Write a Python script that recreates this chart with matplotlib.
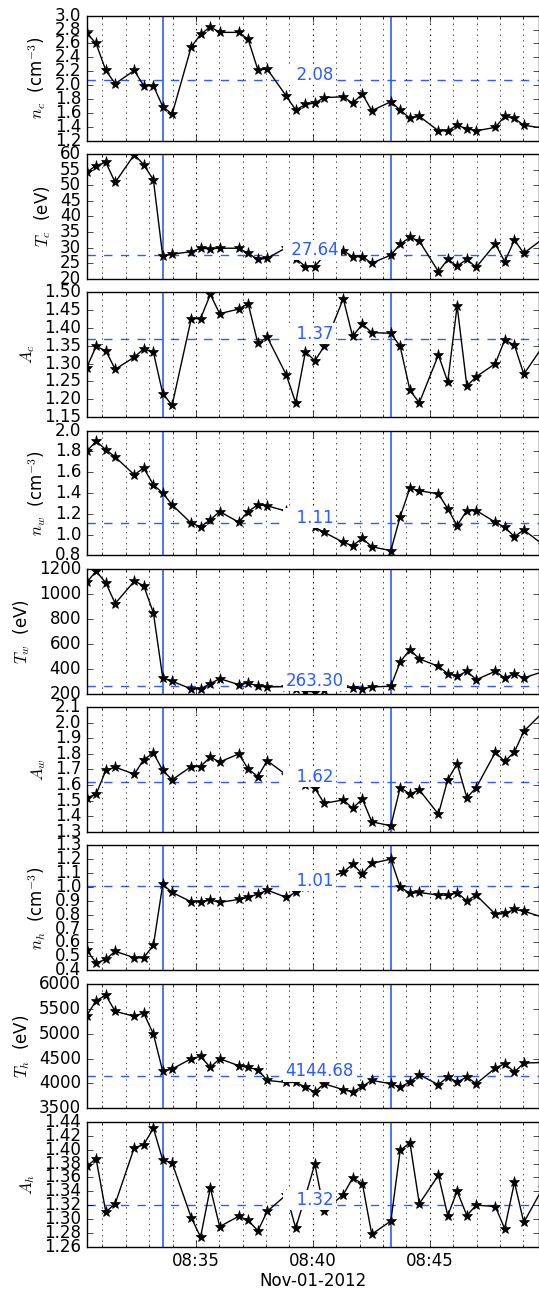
import matplotlib
matplotlib.use("Agg")
import matplotlib.pyplot as plt
import matplotlib.dates as mdates
import matplotlib.transforms as mtransforms
from matplotlib.ticker import MultipleLocator, FormatStrFormatter
import pandas as pd

plt.style.use("classic")
plt.rcParams.update({
    "figure.facecolor": "white",
    "savefig.facecolor": "white",
    "font.family": ["DejaVu Sans"],
})

DAY = "2012-11-01 "

# sample times (UT)
times = ["08:30:20", "08:30:44", "08:31:09", "08:31:33", "08:32:22", "08:32:46",
         "08:33:11", "08:33:35", "08:33:59", "08:34:48", "08:35:12", "08:35:37",
         "08:36:01", "08:36:50", "08:37:14", "08:37:39", "08:38:03", "08:38:52",
         "08:39:16", "08:39:41", "08:40:05", "08:40:29", "08:41:18", "08:41:42",
         "08:42:07", "08:42:31", "08:43:20", "08:43:44", "08:44:09", "08:44:33",
         "08:45:22", "08:45:46", "08:46:10", "08:46:35", "08:46:59", "08:47:48",
         "08:48:12", "08:48:37", "08:49:01", "08:49:50"]

# core population
n_c = [2.75, 2.60, 2.21, 2.02, 2.21, 1.99, 1.99, 1.69, 1.58, 2.55, 2.73, 2.84,
       2.76, 2.76, 2.66, 2.22, 2.23, 1.84, 1.64, 1.72, 1.74, 1.82, 1.83, 1.74,
       1.87, 1.63, 1.76, 1.64, 1.52, 1.55, 1.34, 1.34, 1.42, 1.37, 1.34, 1.39,
       1.55, 1.52, 1.42, 1.38]
T_c = [54.1, 56.3, 57.3, 50.9, 59.8, 56.6, 51.7, 27.2, 27.9, 28.7, 29.8, 29.6,
       29.8, 29.8, 28.2, 26.2, 26.6, 30.0, 26.5, 23.9, 23.9, 27.5, 29.0, 27.1,
       27.1, 25.0, 27.6, 31.1, 33.3, 32.1, 22.3, 26.2, 24.1, 26.2, 23.7, 31.2,
       25.5, 32.4, 28.2, 32.8]
A_c = [1.289, 1.348, 1.336, 1.284, 1.318, 1.341, 1.332, 1.216, 1.183, 1.426,
       1.426, 1.494, 1.440, 1.453, 1.468, 1.357, 1.374, 1.268, 1.190, 1.333,
       1.308, 1.348, 1.482, 1.376, 1.411, 1.387, 1.385, 1.348, 1.225, 1.190,
       1.324, 1.249, 1.462, 1.237, 1.263, 1.300, 1.366, 1.352, 1.270, 1.349]

# warm population
n_w = [1.80, 1.897, 1.817, 1.746, 1.575, 1.64, 1.479, 1.398, 1.286, 1.109,
       1.076, 1.141, 1.221, 1.119, 1.221, 1.286, 1.276, 1.225, 1.17, 1.12,
       1.07, 1.022, 0.925, 0.893, 0.964, 0.883, 0.845, 1.173, 1.447, 1.421,
       1.392, 1.247, 1.086, 1.231, 1.231, 1.119, 1.07, 0.98, 1.044, 0.904]
T_w = [1092, 1181, 1088, 922, 1101, 1066, 847, 326, 299, 238, 238, 280,
       320, 272, 286, 259, 254, 256, 235, 218, 215, 232, 255, 246,
       238, 254, 259, 454, 553, 478, 419, 360, 339, 379, 312, 379,
       326, 360, 326, 376]
A_w = [1.519, 1.541, 1.694, 1.715, 1.670, 1.763, 1.806, 1.694, 1.634, 1.719,
       1.719, 1.780, 1.748, 1.800, 1.703, 1.655, 1.756, 1.665, 1.62, 1.60,
       1.58, 1.483, 1.505, 1.451, 1.511, 1.365, 1.339, 1.584, 1.543, 1.569,
       1.414, 1.634, 1.737, 1.519, 1.584, 1.810, 1.752, 1.812, 1.945, 2.066]

# halo population
n_h = [0.544, 0.453, 0.477, 0.537, 0.489, 0.489, 0.580, 1.018, 0.961, 0.893,
       0.893, 0.905, 0.889, 0.910, 0.925, 0.949, 0.977, 0.925, 0.961, 1.00,
       1.03, 1.06, 1.105, 1.165, 1.093, 1.170, 1.201, 1.001, 0.953, 0.961,
       0.941, 0.941, 0.958, 0.900, 0.941, 0.804, 0.809, 0.838, 0.826, 0.781]
T_h = [5358, 5659, 5766, 5445, 5345, 5412, 4991, 4242, 4290, 4496, 4543, 4322,
       4496, 4356, 4322, 4276, 4062, 4021, 4021, 3929, 3829, 3995, 3875, 3829,
       3942, 4062, 3995, 3929, 4029, 4175, 3975, 4129, 4029, 4129, 3995, 4309,
       4396, 4229, 4410, 4420]
A_h = [1.376, 1.387, 1.310, 1.322, 1.403, 1.407, 1.431, 1.385, 1.381, 1.302,
       1.274, 1.345, 1.289, 1.304, 1.298, 1.283, 1.311, 1.335, 1.287, 1.333,
       1.379, 1.312, 1.335, 1.359, 1.351, 1.278, 1.297, 1.399, 1.410, 1.322,
       1.363, 1.305, 1.340, 1.305, 1.320, 1.318, 1.286, 1.353, 1.295, 1.345]

# interval averages shown as dashed lines
means = [2.08, 27.64, 1.37, 1.11, 263.30, 1.62, 1.01, 4144.68, 1.32]

# boundary crossings
events = ["08:33:35", "08:43:20"]

ylabels = [r"$n_c$  (cm$^{-3}$)", r"$T_c$  (eV)", r"$A_c$",
           r"$n_w$  (cm$^{-3}$)", r"$T_w$  (eV)", r"$A_w$",
           r"$n_h$  (cm$^{-3}$)", r"$T_h$  (eV)", r"$A_h$"]
ylims = [(1.2, 3.0), (20, 60), (1.15, 1.50), (0.8, 2.0), (200, 1200),
         (1.3, 2.1), (0.4, 1.3), (3500, 6000), (1.26, 1.44)]
ysteps = [0.2, 5, 0.05, 0.2, 200, 0.1, 0.1, 500, 0.02]
yfmts = ["%.1f", "%d", "%.2f", "%.1f", "%d", "%.1f", "%.1f", "%d", "%.2f"]
series = [n_c, T_c, A_c, n_w, T_w, A_w, n_h, T_h, A_h]

BLUE = "#2a5cff"

t = pd.to_datetime([DAY + s for s in times])
ev = pd.to_datetime([DAY + s for s in events])
x0 = pd.Timestamp(DAY + "08:30:20")
x1 = pd.Timestamp(DAY + "08:49:40")

fig, axes = plt.subplots(9, 1, sharex=True, figsize=(5.39, 12.89), dpi=100)
fig.subplots_adjust(left=0.1609, right=1.0, top=0.9878, bottom=0.0328,
                    hspace=0.108)

# white label box: wider horizontally than vertically
label_box = dict(boxstyle="square,pad=0.18", facecolor="white",
                 edgecolor="none", mutation_aspect=0.45)

for ax, vals, m, lab, yl, st, fm in zip(axes, series, means, ylabels, ylims,
                                        ysteps, yfmts):
    ax.plot(t, vals, color="k", lw=1.0, marker="*", ms=8, mfc="k", mec="k",
            mew=0.5, zorder=3)
    ax.axhline(m, color=BLUE, ls="--", lw=1.0, zorder=2)
    for e in ev:
        ax.axvline(e, color=BLUE, lw=1.2, zorder=2)
    trans = mtransforms.blended_transform_factory(ax.transAxes, ax.transData)
    ax.text(0.440, m, "%6.2f" % m, transform=trans, color=BLUE, fontsize=12,
            ha="left", va="baseline", zorder=6, bbox=label_box)
    ax.set_ylim(*yl)
    ax.yaxis.set_major_locator(MultipleLocator(st))
    ax.yaxis.set_major_formatter(FormatStrFormatter(fm))
    ax.set_ylabel(lab)
    ax.grid(True, axis="x", which="major", ls=":", color="k", lw=0.8)
    ax.grid(True, axis="x", which="minor", ls=":", color="k", lw=0.5)
    ax.set_xlim(x0, x1)

axes[-1].xaxis.set_major_locator(mdates.MinuteLocator(byminute=range(0, 60, 5)))
axes[-1].xaxis.set_minor_locator(mdates.MinuteLocator())
axes[-1].xaxis.set_major_formatter(mdates.DateFormatter("%H:%M"))
axes[-1].set_xlabel("Nov-01-2012", labelpad=1)

fig.savefig("out.png", dpi=100)
